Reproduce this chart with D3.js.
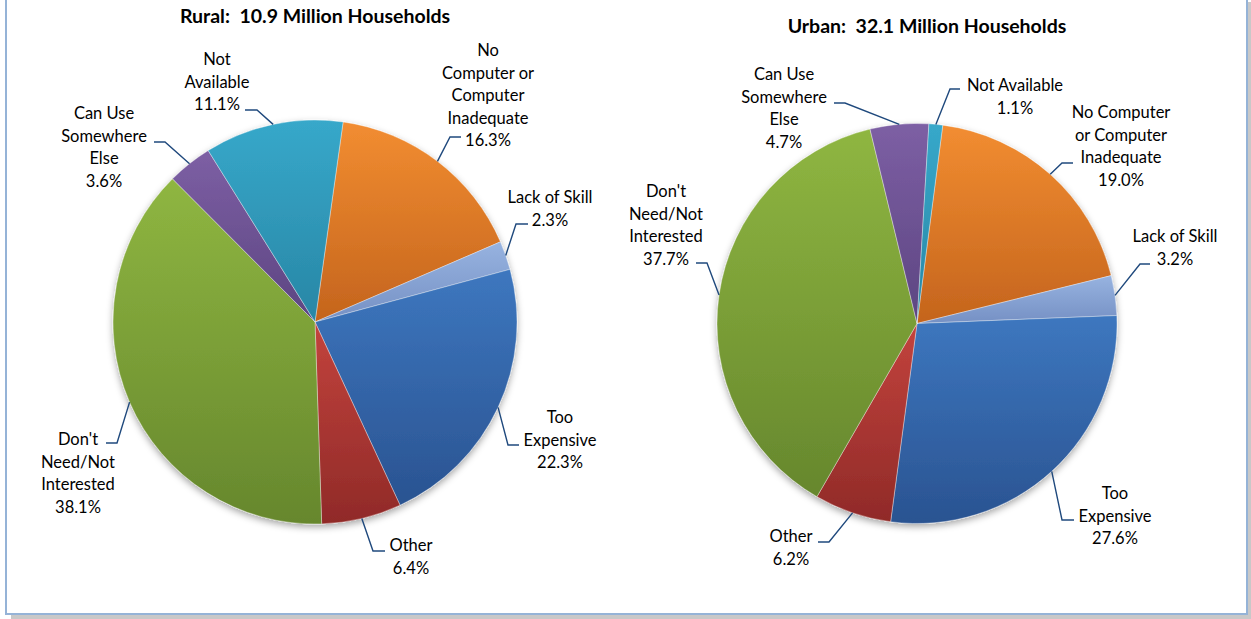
<!DOCTYPE html>
<html>
<head>
<meta charset="utf-8">
<script src="https://cdn.jsdelivr.net/npm/d3@7"></script>
<style>
  html, body { margin: 0; padding: 0; background: #fff; }
  svg { display: block; }
  text { font-family: Lato, "Open Sans", sans-serif; fill: #000; white-space: pre; }
</style>
</head>
<body>
<script>
// categories, in the order the slices run clockwise
var categories = ["No Computer or Computer Inadequate", "Lack of Skill", "Too Expensive",
                  "Other", "Don't Need/Not Interested", "Can Use Somewhere Else", "Not Available"];

var ruralValues = [16.3, 2.3, 22.3, 6.4, 38.1, 3.6, 11.1];
var urbanValues = [19.0, 3.2, 27.6, 6.2, 37.7, 4.7, 1.1];

var ruralTitle = "Rural:  10.9 Million Households";
var urbanTitle = "Urban:  32.1 Million Households";

// label text as wrapped in the picture
var ruralLabelLines = [
  ["No", "Computer or", "Computer", "Inadequate"],
  ["Lack of Skill"],
  ["Too", "Expensive"],
  ["Other"],
  ["Don't", "Need/Not", "Interested"],
  ["Can Use", "Somewhere", "Else"],
  ["Not", "Available"]
];
var urbanLabelLines = [
  ["No Computer", "or Computer", "Inadequate"],
  ["Lack of Skill"],
  ["Too", "Expensive"],
  ["Other"],
  ["Don't", "Need/Not", "Interested"],
  ["Can Use", "Somewhere", "Else"],
  ["Not Available"]
];

// colours (gradient top, bottom)
var colorsTop    = ["#F28D31", "#97B3E0", "#3D77BF", "#C3433D", "#8FB641", "#7D5FA4", "#37A8CA"];
var colorsBottom = ["#C4641D", "#7590C4", "#2A5391", "#902A28", "#66872D", "#5C4581", "#2886A5"];

const W = 1251, H = 619;

const svg = d3.select("body").append("svg")
  .attr("width", W).attr("height", H);

const defs = svg.append("defs");

// frame with shadow
svg.append("rect").attr("x", 11).attr("y", 2).attr("width", 1240).attr("height", 617).attr("fill", "#C8C8C8");
svg.append("rect").attr("x", 6).attr("y", -3).attr("width", 1241).attr("height", 617)
  .attr("fill", "#fff").attr("stroke", "#95B3D7").attr("stroke-width", 2);

const shadow = defs.append("filter").attr("id", "pieShadow")
  .attr("x", "-10%").attr("y", "-10%").attr("width", "120%").attr("height", "125%");
shadow.append("feDropShadow").attr("dx", 0).attr("dy", 3).attr("stdDeviation", 3.5)
  .attr("flood-color", "#000").attr("flood-opacity", 0.35);

categories.forEach(function(c, i) {
  var g = defs.append("linearGradient").attr("id", "grad" + i)
    .attr("x1", 0).attr("y1", 0).attr("x2", 0).attr("y2", 1);
  g.append("stop").attr("offset", "0%").attr("stop-color", colorsTop[i]);
  g.append("stop").attr("offset", "100%").attr("stop-color", colorsBottom[i]);
});

// layout of each pie: centre, radius, angle of first slice, label placement
var ruralLayout = {
  cx: 315, cy: 322, r: 202, start: 8, titleX: 315, titleY: 23,
  labels: [
    {x: 488, y: 56,  lx: 461, ly: 137, ex: 450},
    {x: 550, y: 203, lx: 528, ly: 224, ex: 516},
    {x: 560, y: 423, lx: 519, ly: 445, ex: 508},
    {x: 411, y: 551, lx: 385, ly: 551, ex: 373},
    {x: 78,  y: 445, lx: 106, ly: 443, ex: 117},
    {x: 104, y: 119, lx: 154, ly: 142, ex: 165},
    {x: 217, y: 65,  lx: 245, ly: 110, ex: 257}
  ]
};
var urbanLayout = {
  cx: 917, cy: 323.5, r: 200, start: 7.4, titleX: 927, titleY: 33,
  labels: [
    {x: 1121, y: 118, lx: 1073, ly: 163, ex: 1062},
    {x: 1175, y: 242, lx: 1150, ly: 264, ex: 1140},
    {x: 1115, y: 499, lx: 1074, ly: 520, ex: 1062},
    {x: 791,  y: 542, lx: 818,  ly: 542, ex: 829},
    {x: 666,  y: 197, lx: 696,  ly: 263, ex: 707},
    {x: 784,  y: 80,  lx: 834,  ly: 103, ex: 845},
    {x: 1015, y: 91,  lx: 960,  ly: 89,  ex: 950}
  ]
};

const lineH = 22.5;

function drawPie(values, labelLines, title, lay) {
  var a0 = lay.start * Math.PI / 180;
  var pie = d3.pie().sort(null).value(d => d).startAngle(a0).endAngle(a0 + 2 * Math.PI);
  var arcs = pie(values);
  var arc = d3.arc().innerRadius(0).outerRadius(lay.r);

  svg.append("text")
    .attr("x", lay.titleX).attr("y", lay.titleY)
    .attr("text-anchor", "middle")
    .style("font-size", "19.5px").style("font-weight", "bold")
    .text(title);

  var g = svg.append("g").attr("transform", `translate(${lay.cx}, ${lay.cy})`);
  var slices = g.append("g").attr("filter", "url(#pieShadow)");
  slices.selectAll("path")
    .data(arcs)
    .enter()
    .append("path")
      .attr("d", arc)
      .attr("fill", (d, i) => "url(#grad" + i + ")")
      .attr("stroke", "#fff")
      .attr("stroke-opacity", 0.6)
      .attr("stroke-width", 0.6);

  // leader lines to the edge of each slice at its mid angle
  arcs.forEach(function(d, i) {
    var L = lay.labels[i];
    var mid = (d.startAngle + d.endAngle) / 2;
    var px = lay.cx + lay.r * Math.sin(mid);
    var py = lay.cy - lay.r * Math.cos(mid);
    svg.append("polyline")
      .attr("points", [[L.lx, L.ly], [L.ex, L.ly], [px, py]].map(p => p.join(",")).join(" "))
      .attr("fill", "none")
      .attr("stroke", "#1F497D")
      .attr("stroke-width", 1.4);

    var lines = labelLines[i].concat([d3.format(".1f")(values[i]) + "%"]);
    var t = svg.append("text")
      .attr("text-anchor", "middle")
      .style("font-size", "16.5px");
    lines.forEach(function(s, k) {
      t.append("tspan").attr("x", L.x).attr("y", L.y + k * lineH).text(s);
    });
  });
}

drawPie(ruralValues, ruralLabelLines, ruralTitle, ruralLayout);
drawPie(urbanValues, urbanLabelLines, urbanTitle, urbanLayout);
</script>
</body>
</html>
